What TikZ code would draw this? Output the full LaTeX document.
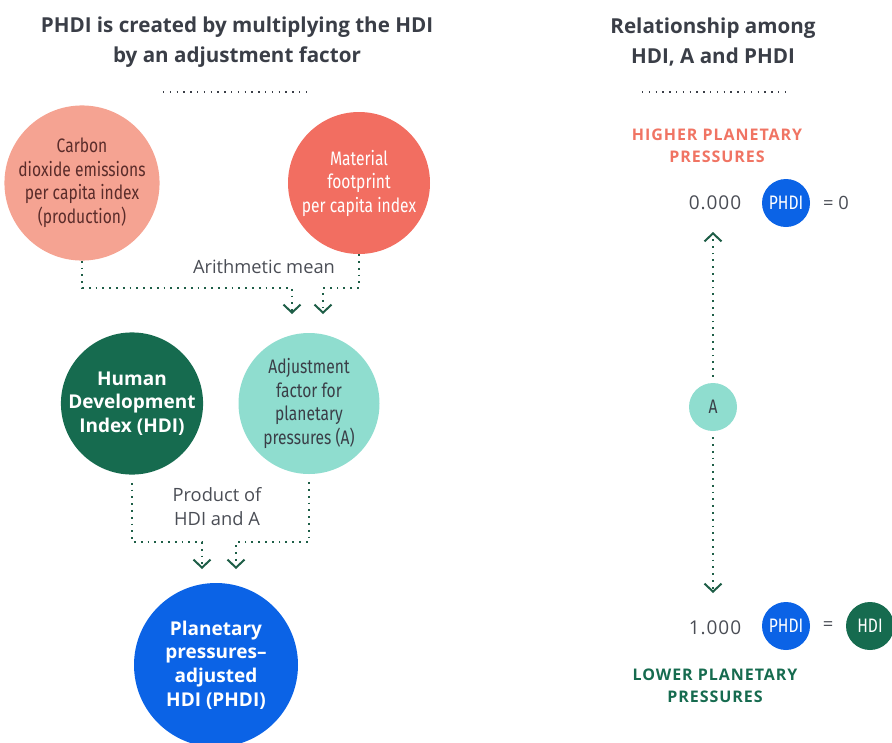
\documentclass[tikz,border=0pt]{standalone}
\usepackage{fontspec}
\setmainfont{Open Sans}
\newfontfamily\condfont[FakeStretch=0.8]{Fira Sans}
\newfontfamily\capsfont[LetterSpace=6]{Open Sans}
\newfontfamily\numfont[LetterSpace=5]{Open Sans}
\usetikzlibrary{arrows.meta}
\definecolor{salmon}{HTML}{F5A392}
\definecolor{coral}{HTML}{F26E61}
\definecolor{dkgreen}{HTML}{166B4F}
\definecolor{teal}{HTML}{8FDDCF}
\definecolor{phdiblue}{HTML}{0B63E6}
\definecolor{titlegray}{HTML}{3A3E47}
\definecolor{txtgray}{HTML}{4A4D55}
\definecolor{brown}{HTML}{5A2C2A}
\definecolor{linegreen}{HTML}{1E5E47}
\definecolor{hightxt}{HTML}{F07463}
\begin{document}
\begin{tikzpicture}[x=1pt,y=-1pt,
  circ/.style={circle, inner sep=0pt, align=center},
  titletxt/.style={align=center, text=titlegray, font=\bfseries\fontsize{20.6}{30}\selectfont},
  labeltxt/.style={align=center, text=txtgray, font=\fontsize{18.3}{24}\selectfont},
  numtxt/.style={text=txtgray, font=\numfont\fontsize{19}{24}\selectfont},
  condtxt/.style={font=\condfont\fontsize{19.5}{23.5}\selectfont},
  boldtxt/.style={font=\bfseries\fontsize{19}{23.7}\selectfont},
  capstxt/.style={align=center, font=\capsfont\bfseries\fontsize{16}{22.5}\selectfont},
  conn/.style={draw=linegreen, line width=1.9pt, dash pattern=on 1.8pt off 5pt},
  arr/.style={-{Straight Barb[length=8pt,width=17pt,line width=2pt]}},
  titledots/.style={draw=titlegray, line width=1.3pt, dash pattern=on 1.3pt off 5.5pt}
]
\useasboundingbox (0,0) rectangle (892,742);
\clip (0,0) rectangle (892,742);

% Left part
\node[titletxt] (t1) at (237,42) {PHDI is created by multiplying the HDI\\by an adjustment factor};
\draw[titledots] (163,92) -- (307,92);

\node[circ, minimum size=140pt, fill=salmon, text=brown, condtxt] (co2) at (82,183)
  {Carbon\\dioxide emissions\\per capita index\\(production)};
\node[circ, minimum size=142pt, fill=coral, text=white, condtxt] (mat) at (359,183)
  {Material\\footprint\\per capita index};
\node[labeltxt] (am) at (264,267) {Arithmetic mean};

\coordinate (j1) at (292,288);
\coordinate (j2) at (323,288);
\coordinate (e1) at (292,314);
\coordinate (e2) at (323,314);
\draw[conn,arr] (co2.south) |- (j1) -- (e1);
\draw[conn,arr] (mat.south) |- (j2) -- (e2);

\node[circ, minimum size=141pt, fill=dkgreen, text=white, boldtxt] (hdi) at (132,403.5)
  {Human\\Development\\Index (HDI)};
\node[circ, minimum size=141pt, fill=teal, text=titlegray, condtxt] (adj) at (309,403.5)
  {Adjustment\\factor for\\planetary\\pressures (A)};
\node[labeltxt] (prod) at (217,507) {Product of\\HDI and A};

\coordinate (j3) at (202,542);
\coordinate (j4) at (236,542);
\coordinate (e3) at (202,569);
\coordinate (e4) at (236,569);
\draw[conn,arr,shorten <=8pt] (hdi.south) |- (j3) -- (e3);
\draw[conn,arr,shorten <=8pt] (adj.south) |- (j4) -- (e4);

\node[circ, minimum size=164pt, fill=phdiblue, text=white, boldtxt] (phdi) at (216,665)
  {Planetary\\pressures--\\adjusted\\HDI (PHDI)};

% Right part
\node[titletxt] (t2) at (713,42) {Relationship among\\HDI, A and PHDI};
\draw[titledots] (642,92) -- (788,92);

\node[capstxt, text=hightxt] (high) at (717,146) {HIGHER PLANETARY\\PRESSURES};
\node[numtxt] (zero) at (715,203) {0.000};
\node[circ, minimum size=48pt, fill=phdiblue, text=white, condtxt] (p1) at (786,203) {PHDI};
\node[labeltxt] (eq0) at (836,203) {= 0};

\node[circ, minimum size=48pt, fill=teal, text=titlegray, condtxt] (A) at (713,407) {A};
\coordinate (up) at (713,232);
\coordinate (dn) at (713,593);
\draw[conn,arr,shorten <=6pt] (A.north) -- (up);
\draw[conn,arr,shorten <=6pt] (A.south) -- (dn);

\node[numtxt] (one) at (715,628) {1.000};
\node[circ, minimum size=48pt, fill=phdiblue, text=white, condtxt] (p2) at (786,626) {PHDI};
\node[labeltxt] (eq) at (828,626) {=};
\node[circ, minimum size=48pt, fill=dkgreen, text=white, condtxt] (h2) at (870,626) {HDI};

\node[capstxt, text=dkgreen] (low) at (715,686) {LOWER PLANETARY\\PRESSURES};
\end{tikzpicture}
\end{document}
